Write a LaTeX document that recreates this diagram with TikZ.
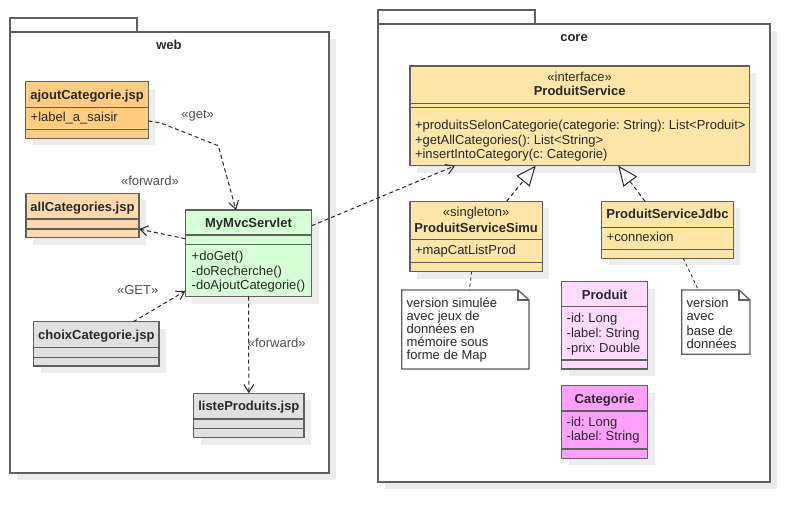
\documentclass[tikz,border=0pt]{standalone}
\usepackage{fontspec}
\setmainfont{Liberation Sans}
\usetikzlibrary{arrows.meta,shadows}
\frenchspacing
\definecolor{bordc}{RGB}{96,96,96}
\definecolor{linec}{RGB}{40,40,40}
\definecolor{txtc}{RGB}{40,40,40}
\definecolor{lblc}{RGB}{80,80,80}
\definecolor{shadowc}{RGB}{236,236,236}
\definecolor{ajoutc}{RGB}{255,204,128}
\definecolor{allcatc}{RGB}{255,217,173}
\definecolor{servc}{RGB}{214,255,214}
\definecolor{jspc}{RGB}{224,224,224}
\definecolor{servicec}{RGB}{255,229,168}
\definecolor{produitc}{RGB}{255,218,255}
\definecolor{categc}{RGB}{255,160,255}

\begin{document}
\begin{tikzpicture}[x=1pt,y=-1pt,
  every node/.style={font=\fontsize{13pt}{15pt}\selectfont\frenchspacing,text=txtc,inner sep=0pt,outer sep=0pt},
  pkg/.style={draw=bordc,line width=1.3pt,fill=white},
  pkgbox/.style={pkg,anchor=north west,drop shadow={shadow xshift=7pt,shadow yshift=-7pt,fill=shadowc,opacity=1}},
  cls/.style={draw=bordc,line width=1.3pt,anchor=north west,drop shadow={shadow xshift=7pt,shadow yshift=-7pt,fill=shadowc,opacity=1}},
  sep/.style={draw=bordc,line width=1.3pt},
  notebox/.style={anchor=north west},
  noteline/.style={draw=bordc,line width=1.3pt,fill=white},
  title/.style={anchor=base,font=\fontsize{13pt}{15pt}\selectfont\bfseries},
  stereo/.style={anchor=base},
  member/.style={anchor=base west},
  lbl/.style={anchor=base,text=lblc},
  dep/.style={draw=linec,line width=1pt,dash pattern=on 4pt off 3pt,-{Straight Barb[length=8pt,width=10pt]}},
  real/.style={draw=linec,line width=1pt,dash pattern=on 4pt off 3pt,-{Triangle[open,length=20pt,width=17pt,fill=white]}},
  notelink/.style={draw=linec,line width=0.8pt,dash pattern=on 3pt off 3pt}]
\useasboundingbox (0,0) rectangle (810,522);

% packages
\node[pkgbox,minimum width=319pt,minimum height=441pt] (web) at (10,32) {};
\draw[pkg] (web.north west) rectangle ++(127,-14);
\node[title] (webname) at (169,49.5) {web};
\node[pkgbox,minimum width=392pt,minimum height=458pt] (core) at (378,24) {};
\draw[pkg] (core.north west) rectangle ++(157,-14);
\node[title] (corename) at (574,41.8) {core};

% web classes
\node[cls,fill=ajoutc,minimum width=122.6pt,minimum height=56.6pt] (ajout) at (25.7,81.7) {};
\draw[sep] (ajout.west |- 0,107.3) -- (ajout.east |- 0,107.3);
\draw[sep] (ajout.west |- 0,129.3) -- (ajout.east |- 0,129.3);
\node[title] (ajoutname) at (87,99) {ajoutCategorie.jsp};
\node[member] (ajoutattr) at (30.7,121.3) {+label\_a\_saisir};

\node[cls,fill=allcatc,minimum width=113pt,minimum height=44.4pt] (allcat) at (26,193.3) {};
\draw[sep] (allcat.west |- 0,219) -- (allcat.east |- 0,219);
\draw[sep] (allcat.west |- 0,229) -- (allcat.east |- 0,229);
\node[title] (allcatname) at (82.5,211) {allCategories.jsp};

\node[cls,fill=servc,minimum width=126.4pt,minimum height=86.7pt] (servlet) at (185.3,210) {};
\draw[sep] (servlet.west |- 0,235) -- (servlet.east |- 0,235);
\draw[sep] (servlet.west |- 0,244.3) -- (servlet.east |- 0,244.3);
\node[title] (servletname) at (248.5,227) {MyMvcServlet};
\node[member] (servletopa) at (191.7,260.5) {+doGet()};
\node[member] (servletopb) at (191.7,275) {-doRecherche()};
\node[member] (servletopc) at (191.7,289.5) {-doAjoutCategorie()};

\node[cls,fill=jspc,minimum width=125.3pt,minimum height=44.3pt] (choix) at (33.7,321.7) {};
\draw[sep] (choix.west |- 0,347.3) -- (choix.east |- 0,347.3);
\draw[sep] (choix.west |- 0,357.3) -- (choix.east |- 0,357.3);
\node[title] (choixname) at (96.35,339) {choixCategorie.jsp};

\node[cls,fill=jspc,minimum width=110.3pt,minimum height=44.4pt] (liste) at (193.7,393.3) {};
\draw[sep] (liste.west |- 0,419) -- (liste.east |- 0,419);
\draw[sep] (liste.west |- 0,428.3) -- (liste.east |- 0,428.3);
\node[title] (listename) at (248.85,410.7) {listeProduits.jsp};

% core classes
\node[cls,fill=servicec,minimum width=339.3pt,minimum height=99.7pt] (service) at (410,66) {};
\draw[sep] (service.west |- 0,103.7) -- (service.east |- 0,103.7);
\draw[sep] (service.west |- 0,107.7) -- (service.east |- 0,107.7);
\node[stereo] (servicest) at (579.65,81) {«interface»};
\node[title] (servicename) at (579.65,95.7) {ProduitService};
\node[member] (serviceopa) at (415,129.5) {+produitsSelonCategorie(categorie: String): List<Produit>};
\node[member] (serviceopb) at (415,144) {+getAllCategories(): List<String>};
\node[member] (serviceopc) at (415,158.5) {+insertIntoCategory(c: Categorie)};

\node[cls,fill=servicec,minimum width=132.3pt,minimum height=70.4pt] (simu) at (410,201.3) {};
\draw[sep] (simu.west |- 0,239.3) -- (simu.east |- 0,239.3);
\draw[sep] (simu.west |- 0,262.7) -- (simu.east |- 0,262.7);
\node[stereo] (simust) at (476.15,216) {«singleton»};
\node[title] (simuname) at (476.15,232.3) {ProduitServiceSimu};
\node[member] (simuattr) at (415,254.5) {+mapCatListProd};

\node[cls,fill=servicec,minimum width=131.6pt,minimum height=57pt] (jdbc) at (601.7,201.3) {};
\draw[sep] (jdbc.west |- 0,227.3) -- (jdbc.east |- 0,227.3);
\draw[sep] (jdbc.west |- 0,249.3) -- (jdbc.east |- 0,249.3);
\node[title] (jdbcname) at (667.5,218.7) {ProduitServiceJdbc};
\node[member] (jdbcattr) at (606.7,241.5) {+connexion};

\node[cls,fill=produitc,minimum width=86pt,minimum height=87.3pt] (produit) at (561.7,281.7) {};
\draw[sep] (produit.west |- 0,306.7) -- (produit.east |- 0,306.7);
\draw[sep] (produit.west |- 0,360) -- (produit.east |- 0,360);
\node[title] (produitname) at (604.7,299) {Produit};
\node[member] (produitattra) at (566.7,322.2) {-id: Long};
\node[member] (produitattrb) at (566.7,337.2) {-label: String};
\node[member] (produitattrc) at (566.7,352.2) {-prix: Double};

\node[cls,fill=categc,minimum width=86pt,minimum height=72.6pt] (categorie) at (561.7,385.7) {};
\draw[sep] (categorie.west |- 0,411) -- (categorie.east |- 0,411);
\draw[sep] (categorie.west |- 0,449) -- (categorie.east |- 0,449);
\node[title] (categoriename) at (604.7,403) {Categorie};
\node[member] (categorieattra) at (566.7,426.2) {-id: Long};
\node[member] (categorieattrb) at (566.7,440.5) {-label: String};

% notes
\node[notebox,minimum width=127.3pt,minimum height=79pt] (notesimu) at (401.7,290) {};
\draw[noteline] (notesimu.north west) -- ([xshift=-11pt]notesimu.north east) -- ([yshift=-10pt]notesimu.north east) -- (notesimu.south east) -- (notesimu.south west) -- cycle;
\draw[sep] ([xshift=-11pt]notesimu.north east) -- ([xshift=-11pt,yshift=-10pt]notesimu.north east) -- ([yshift=-10pt]notesimu.north east);
\node[member] (notesimua) at (406.7,307.2) {version simulée};
\node[member] (notesimub) at (406.7,320.2) {avec jeux de};
\node[member] (notesimuc) at (406.7,333.3) {données en};
\node[member] (notesimud) at (406.7,346.2) {mémoire sous};
\node[member] (notesimue) at (406.7,359.2) {forme de Map};

\node[notebox,minimum width=68.3pt,minimum height=64.3pt] (notejdbc) at (681.7,290) {};
\draw[noteline] (notejdbc.north west) -- ([xshift=-11pt]notejdbc.north east) -- ([yshift=-10pt]notejdbc.north east) -- (notejdbc.south east) -- (notejdbc.south west) -- cycle;
\draw[sep] ([xshift=-11pt]notejdbc.north east) -- ([xshift=-11pt,yshift=-10pt]notejdbc.north east) -- ([yshift=-10pt]notejdbc.north east);
\node[member] (notejdbca) at (686.7,307.2) {version};
\node[member] (notejdbcb) at (686.7,320.2) {avec};
\node[member] (notejdbcc) at (686.7,335.6) {base de};
\node[member] (notejdbcd) at (686.7,348.2) {données};

% connectors
\coordinate (geta) at (160,122.7);
\coordinate (getb) at (218.3,145.7);
\draw[dep] ([yshift=-11pt]ajout.east) -- (geta) -- (getb) -- ([xshift=-12.5pt]servlet.north);
\node[lbl] (getlbl) at (197.7,118.3) {«get»};
\draw[dep] ([yshift=14.6pt]servlet.west) -- ([yshift=-13.5pt]allcat.east);
\node[lbl] (fwdlbla) at (150,185.7) {«forward»};
\draw[dep] ([xshift=37pt]choix.north) -- ([yshift=-37.6pt]servlet.west);
\node[lbl] (getlblb) at (137.7,294.3) {«GET»};
\draw[dep] (servlet.south) -- (liste.north);
\node[lbl] (fwdlblb) at (276.7,347.3) {«forward»};
\draw[dep] ([yshift=27.6pt]servlet.east) -- ([xshift=-124.6pt]service.south);
\draw[real] ([xshift=30.5pt]simu.north) -- ([xshift=-44pt]service.south);
\draw[real] ([xshift=-22.5pt]jdbc.north) -- ([xshift=38.6pt]service.south);
\draw[notelink] ([xshift=-4.5pt]simu.south) -- ([xshift=4pt]notesimu.north);
\draw[notelink] ([xshift=15.8pt]jdbc.south) -- ([xshift=-17.5pt]notejdbc.north);
\end{tikzpicture}
\end{document}
